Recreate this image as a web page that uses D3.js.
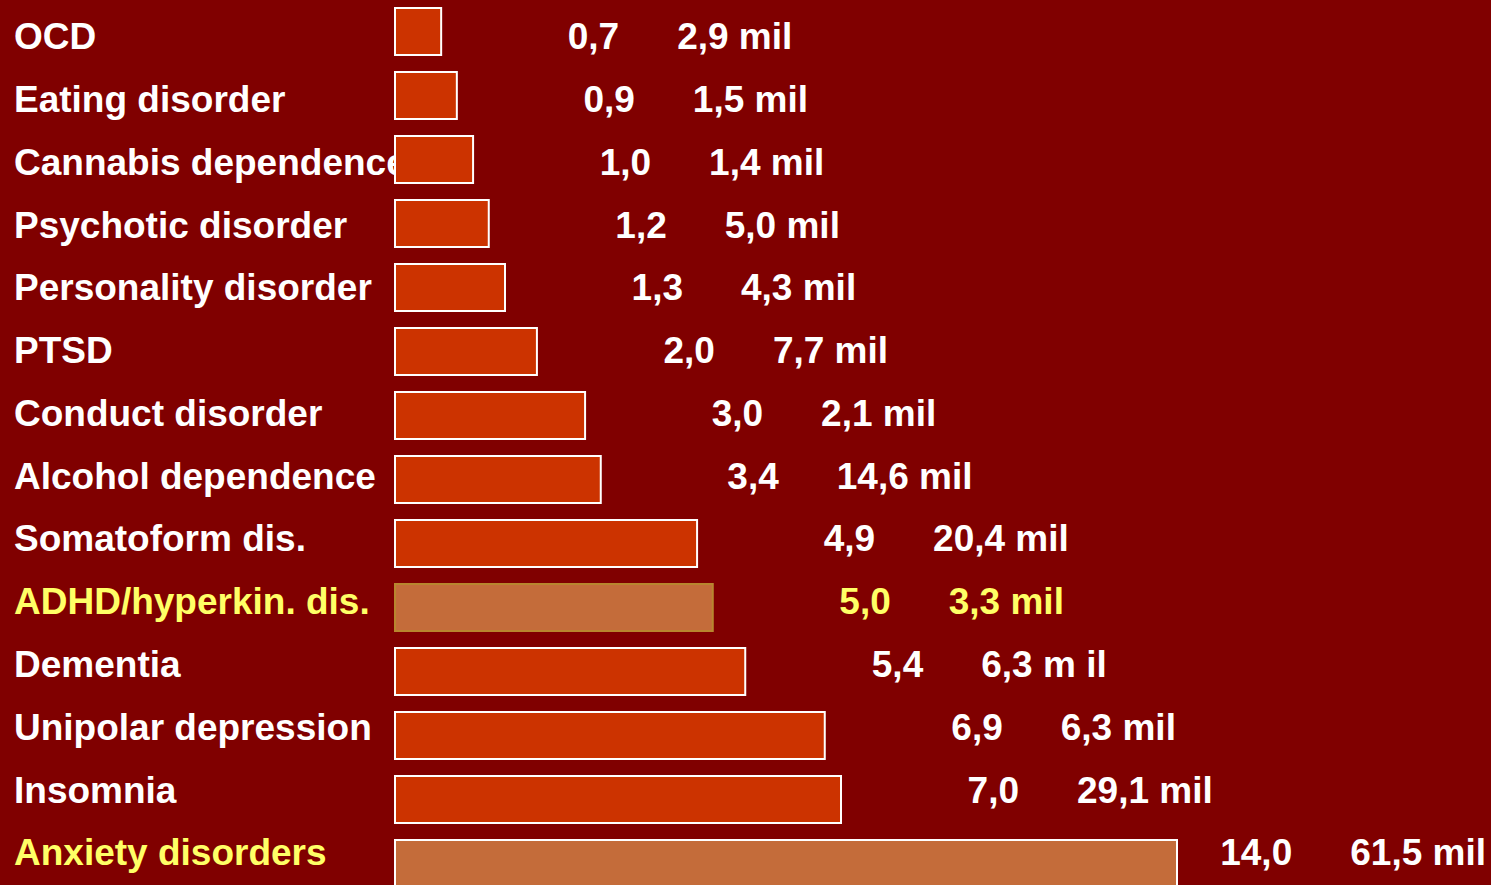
<!DOCTYPE html>
<html>
<head>
<meta charset="utf-8">
<script src="https://cdn.jsdelivr.net/npm/d3@7"></script>
<style>
  html, body { margin: 0; padding: 0; background: #800000; overflow: hidden; }
  svg { display: block; }
  text { font-family: "Liberation Sans", Arial, sans-serif; font-weight: bold; }
</style>
</head>
<body>
<svg id="chart" width="1491" height="885"></svg>
<script>
// ---- data ----
const categories = ["OCD", "Eating disorder", "Cannabis dependence", "Psychotic disorder",
  "Personality disorder", "PTSD", "Conduct disorder", "Alcohol dependence",
  "Somatoform dis.", "ADHD/hyperkin. dis.", "Dementia", "Unipolar depression",
  "Insomnia", "Anxiety disorders"];
// bar lengths as drawn in the picture (value units, Anxiety = 14.0)
const barLengths = [0.86, 1.14, 1.43, 1.71, 2.0, 2.57, 3.43, 3.71, 5.43, 5.71, 6.29, 7.71, 8.0, 14.0];
// displayed values
const valueLabels = ["0,7", "0,9", "1,0", "1,2", "1,3", "2,0", "3,0", "3,4", "4,9", "5,0", "5,4", "6,9", "7,0", "14,0"];
const peopleLabels = ["2,9 mil", "1,5 mil", "1,4 mil", "5,0 mil", "4,3 mil", "7,7 mil", "2,1 mil",
  "14,6 mil", "20,4 mil", "3,3 mil", "6,3 m il", "6,3 mil", "29,1 mil", "61,5 mil"];
const highlighted = ["ADHD/hyperkin. dis.", "Anxiety disorders"];

// ---- layout ----
const W = 1491, H = 885;
const FS = 37;
const svg = d3.select("#chart");
svg.append("rect").attr("width", W).attr("height", H).attr("fill", "#800000");

const x = d3.scaleLinear().domain([0, 14]).range([394, 1178]);
const step = 64, gap = 15;
const yBar = d3.scaleBand().domain(categories)
  .range([7, 7 + step * categories.length - gap])
  .paddingInner(gap / step).paddingOuter(0);
const yText = d3.scalePoint().domain(categories).range([36, 852]);

const rows = categories.map((c, i) => ({
  cat: c, len: barLengths[i], val: valueLabels[i], ppl: peopleLabels[i],
  hi: highlighted.includes(c)
}));

// category labels
svg.append("g").selectAll("text").data(rows).join("text")
  .attr("x", 14)
  .attr("y", d => yText(d.cat))
  .attr("dy", "0.36em")
  .attr("font-size", FS)
  .attr("fill", d => d.hi ? "#FFFF66" : "#FFFFFF")
  .text(d => d.cat);

// bars
svg.append("g").selectAll("rect").data(rows).join("rect")
  .attr("x", x(0) + 1)
  .attr("y", d => yBar(d.cat) + 1)
  .attr("width", d => x(d.len) - x(0) - 2)
  .attr("height", yBar.bandwidth() - 2)
  .attr("fill", d => d.hi ? "#C46C3A" : "#CC3300")
  .attr("stroke", d => d.cat === "ADHD/hyperkin. dis." ? "#B8862E" : "#FFFFFF")
  .attr("stroke-width", 2);

// value + people labels
const lab = svg.append("g");
rows.forEach(d => {
  const yellow = d.cat === "ADHD/hyperkin. dis.";
  const ppl = lab.append("text")
    .attr("y", yText(d.cat)).attr("dy", "0.36em")
    .attr("font-size", FS)
    .attr("fill", yellow ? "#FFFF66" : "#FFFFFF")
    .attr("text-anchor", "start")
    .text(d.ppl);
  const w = ppl.node().getComputedTextLength();
  const pplX = Math.min(x(d.len) + 235, W - 5 - w);
  ppl.attr("x", pplX);
  lab.append("text")
    .attr("x", pplX - 58)
    .attr("y", yText(d.cat)).attr("dy", "0.36em")
    .attr("font-size", FS)
    .attr("fill", yellow ? "#FFFF66" : "#FFFFFF")
    .attr("text-anchor", "end")
    .text(d.val);
});
</script>
</body>
</html>
